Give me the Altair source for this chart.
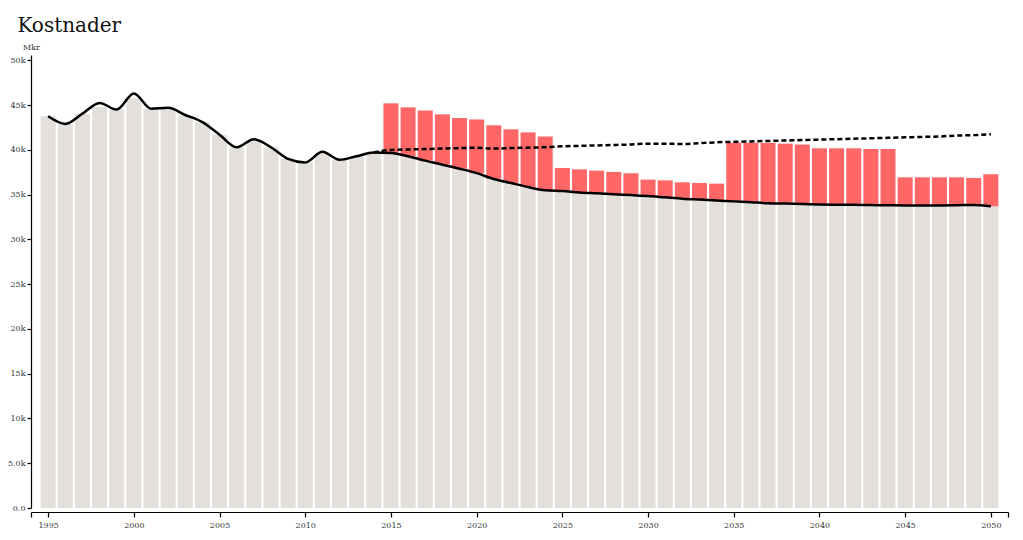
import altair as alt
import pandas as pd

# ---- data (Mkr, thousands) ----
years = list(range(1995, 2051))

base_costs = [43.75, 42.9, 44.0, 44.8, 44.5, 45.8, 44.6, 44.6, 43.9, 43.1,
              41.7, 40.3, 41.1, 40.3, 39.0, 38.6, 39.7, 38.9, 39.3, 39.7,
              39.65, 39.3, 38.8, 38.35, 37.9, 37.4, 36.75, 36.3, 35.85, 35.5,
              35.4, 35.25, 35.15, 35.05, 34.95, 34.85, 34.7, 34.55, 34.45, 34.35,
              34.25, 34.15, 34.05, 34.0, 33.95, 33.9, 33.88, 33.86, 33.84, 33.82,
              33.8, 33.8, 33.8, 33.82, 33.85, 33.7]

line_costs = [43.75, 42.9, 44.05, 45.25, 44.5, 46.3, 44.6, 44.7, 43.9, 43.1,
              41.7, 40.3, 41.2, 40.3, 39.0, 38.6, 39.8, 38.9, 39.3, 39.7,
              39.65, 39.3, 38.8, 38.35, 37.9, 37.4, 36.75, 36.3, 35.85, 35.5,
              35.4, 35.25, 35.15, 35.05, 34.95, 34.85, 34.7, 34.55, 34.45, 34.35,
              34.25, 34.15, 34.05, 34.0, 33.95, 33.9, 33.88, 33.86, 33.84, 33.82,
              33.8, 33.8, 33.8, 33.82, 33.85, 33.7]

extra_years = list(range(2015, 2051))
extra_tops = [45.2, 44.75, 44.4, 43.97, 43.56, 43.4, 42.75, 42.3, 41.96, 41.5,
              37.98, 37.83, 37.68, 37.54, 37.39, 36.68, 36.6, 36.38, 36.3, 36.23,
              40.8, 40.8, 40.78, 40.7, 40.6, 40.18, 40.18, 40.18, 40.1, 40.1,
              36.94, 36.94, 36.94, 36.94, 36.87, 37.28]

dash_years = list(range(2014, 2051))
dash_values = [39.7, 40.0, 40.05, 40.1, 40.15, 40.2, 40.25, 40.15, 40.2, 40.25,
               40.3, 40.4, 40.45, 40.5, 40.55, 40.6, 40.7, 40.7, 40.65, 40.75,
               40.85, 40.9, 40.95, 41.0, 41.05, 41.1, 41.15, 41.2, 41.25, 41.3,
               41.35, 41.4, 41.45, 41.5, 41.6, 41.65, 41.75]

x_ticks = [1994] + list(range(1995, 2051, 5)) + [2051]
y_ticks = list(range(0, 50001, 5000))

# ---- tables ----
df_base = pd.DataFrame({"year": years,
                        "base": [v * 1000 for v in base_costs],
                        "line": [v * 1000 for v in line_costs]})
df_extra = pd.DataFrame({"year": extra_years, "top": [v * 1000 for v in extra_tops]})
df_extra = df_extra.merge(df_base[["year", "base"]], on="year")
df_dash = pd.DataFrame({"year": dash_years, "value": [v * 1000 for v in dash_values]})

FONT = "DejaVu Serif"

x_scale = alt.Scale(domain=[1994, 2051], nice=False, zero=False, padding=0)
y_scale = alt.Scale(domain=[0, 50600], nice=False, padding=0)

x_axis = alt.Axis(values=x_ticks, format="d", title=None, offset=4,
                  labelExpr="(datum.value == 1994 || datum.value == 2051) ? '' : datum.label",
                  grid=False, tickSize=5, labelPadding=4)
y_axis = alt.Axis(values=y_ticks, format=".2s", title="Mkr", titleAngle=0,
                  titleX=0, titleY=-6, titleAlign="center", titleBaseline="alphabetic",
                  titleFontSize=8, titleFontWeight="normal", titleFont=FONT, titleColor="#333",
                  grid=False, tickSize=4, labelPadding=2)

bars = alt.Chart(df_base).mark_bar(size=15, color="#e3dfdb").encode(
    x=alt.X("year:Q", scale=x_scale, axis=x_axis),
    y=alt.Y("base:Q", scale=y_scale, axis=y_axis),
)

extra = alt.Chart(df_extra).mark_bar(size=15, color="#ff6666").encode(
    x=alt.X("year:Q", scale=x_scale),
    y=alt.Y("top:Q", scale=y_scale),
    y2="base:Q",
)

line = alt.Chart(df_base).mark_line(color="#000", strokeWidth=2.5, interpolate="monotone").encode(
    x=alt.X("year:Q", scale=x_scale),
    y=alt.Y("line:Q", scale=y_scale),
)

dashed = alt.Chart(df_dash).mark_line(color="#000", strokeWidth=2.5, strokeDash=[5, 3],
                                      interpolate="monotone").encode(
    x=alt.X("year:Q", scale=x_scale),
    y=alt.Y("value:Q", scale=y_scale),
)

chart = alt.layer(bars, extra, line, dashed).properties(
    width=977, height=453,
    title=alt.Title("Kostnader", anchor="start", font=FONT, fontSize=20,
                    fontWeight="normal", color="#111", dx=10, offset=7),
    autosize=alt.AutoSizeParams(type="none"),
    padding={"left": 31, "top": 55, "right": 15, "bottom": 32},
).configure_view(stroke=None).configure_axis(
    labelFont=FONT, labelFontSize=8, labelColor="#333",
    domainColor="#000", tickColor="#000", domainWidth=1.2, tickWidth=1.2,
)

chart.save("out.html", embed_options={"renderer": "svg", "actions": False})
